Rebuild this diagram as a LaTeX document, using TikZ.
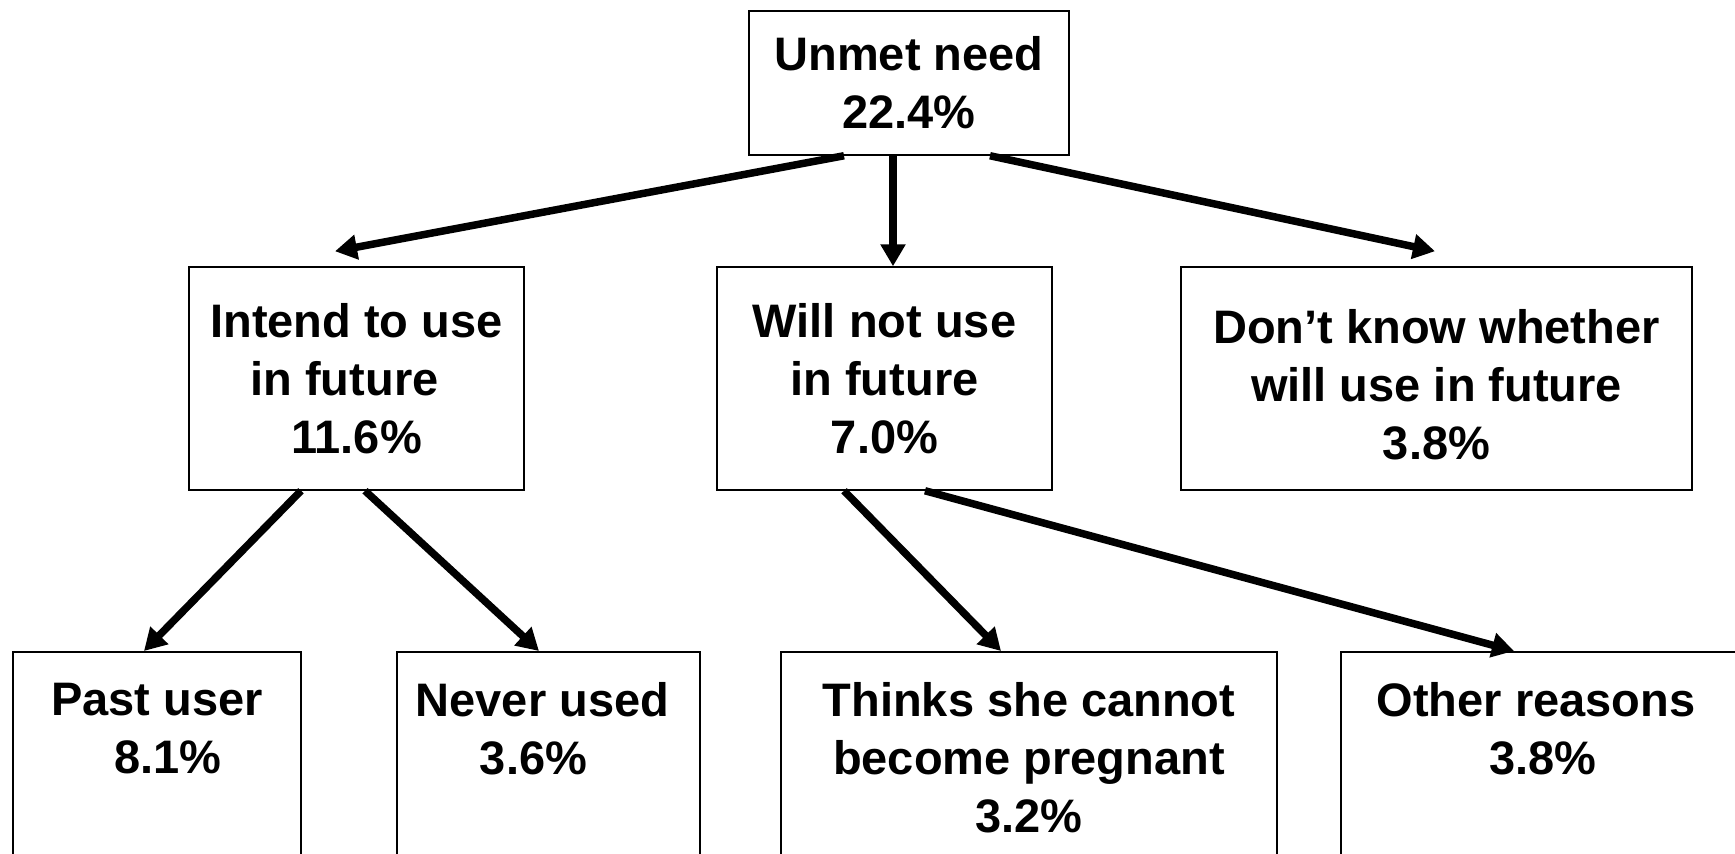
\documentclass[tikz,border=0pt]{standalone}
\usepackage{fontspec}
\setmainfont{Liberation Sans}
\usetikzlibrary{arrows.meta}
\begin{document}
\begin{tikzpicture}[x=1pt,y=-1pt,
    box/.style={draw,line width=1.5pt,align=center,inner sep=0pt,
      font=\fontsize{47}{58}\selectfont\bfseries},
    lowbox/.style={box,anchor=north,inner ysep=31pt,text depth=260pt},
    arr/.style={line width=7.5pt,-{Triangle[length=22pt,width=24pt]}}]
  \def\midH{223pt}
  \useasboundingbox (0,0) rectangle (1735,854);
  \clip (0,0) rectangle (1735,854);

  % top
  \node[box,minimum width=320pt,minimum height=144pt] (unmet) at (909,83) {Unmet need\\ 22.4\%};

  % middle row
  \node[box,minimum width=335pt,minimum height=\midH] (intend) at (356.5,378.5) {Intend to use\\ in future\rule{24pt}{0pt}\\ 11.6\%};
  \node[box,minimum width=335pt,minimum height=\midH] (willnot) at (884.5,378.5) {Will not use\\ in future\\ 7.0\%};
  \node[box,minimum width=511pt,minimum height=\midH] (dontknow) at (1436.5,378.5) {\\[-12pt]Don’t know whether\\ will use in future\\ 3.8\%};

  % bottom row (cut off by the page)
  \node[lowbox,minimum width=288pt] (past) at (157,651) {Past user\\ \hspace*{22pt}8.1\%};
  \node[lowbox,minimum width=303pt] (never) at (548.5,651) {Never used\hspace*{12pt}\\ 3.6\%\hspace*{30pt}};
  \node[lowbox,minimum width=496pt] (thinks) at (1029,651) {Thinks she cannot\\ become pregnant\\ 3.2\%};
  \node[lowbox,minimum width=404pt] (other) at (1543,651) {Other reasons\hspace*{14pt}\\ 3.8\%};

  \draw[arr] ([xshift=-65pt]unmet.south) -- ([xshift=-21.5pt,yshift=15pt]intend.north);
  \draw[arr] ([xshift=-16pt]unmet.south) -- ([xshift=8.5pt]willnot.north);
  \draw[arr] ([xshift=81pt]unmet.south) -- ([xshift=-1.5pt,yshift=15pt]dontknow.north);

  \draw[arr] ([xshift=-55.5pt]intend.south) -- ([xshift=-13pt]past.north);
  \draw[arr] ([xshift=8.5pt]intend.south) -- ([xshift=-9.5pt]never.north);
  \draw[arr] ([xshift=-40.5pt]willnot.south) -- ([xshift=-28pt]thinks.north);
  \draw[arr] ([xshift=40.5pt]willnot.south) -- ([xshift=-29pt]other.north);
\end{tikzpicture}
\end{document}
